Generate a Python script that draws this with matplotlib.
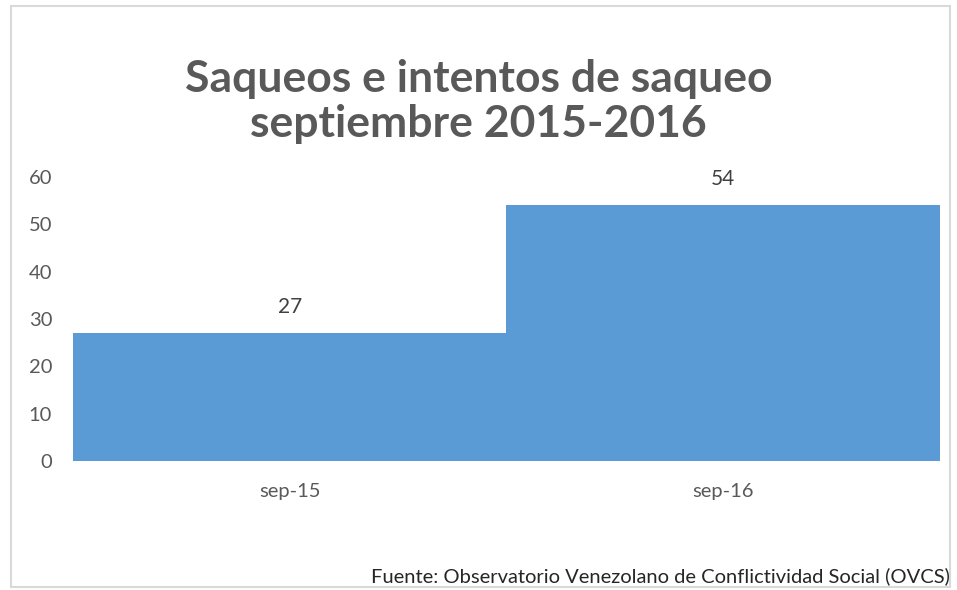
import matplotlib.pyplot as plt
from matplotlib.patches import Rectangle

# --- DATA ---
months = ['sep-15', 'sep-16']
saqueos = [27, 54]
y_ticks = [0, 10, 20, 30, 40, 50, 60]

title_lines = ['Saqueos e intentos de saqueo', 'septiembre 2015-2016']
source = 'Fuente: Observatorio Venezolano de Conflictividad Social (OVCS)'

plt.rcParams['font.family'] = ['Lato', 'DejaVu Sans']

fig = plt.figure(figsize=(9.57, 5.90), dpi=100)
ax = fig.add_axes([0.0763, 0.2186, 0.9057, 0.4814])

x = range(len(months))
ax.bar(x, saqueos, width=1.0, color='#5B9BD5', edgecolor='none')
for xi, v in zip(x, saqueos):
    ax.annotate(str(v), (xi, v), xytext=(0, 12), textcoords='offset points',
                ha='center', va='bottom', fontsize=15, color='#404040')

ax.set_xlim(-0.5, len(months) - 0.5)
ax.set_ylim(0, 60)
ax.set_yticks(y_ticks)
ax.set_xticks(list(x))
ax.set_xticklabels(months)
ax.tick_params(length=0, labelsize=14.5, labelcolor='#595959')
ax.tick_params(axis='x', pad=16)
ax.tick_params(axis='y', pad=15)
for s in ax.spines.values():
    s.set_visible(False)

# title, two lines
fig.text(0.5, 1 - 79 / 590, title_lines[0], ha='center', va='center', fontsize=32,
         fontweight='bold', color='#595959')
fig.text(0.5, 1 - 124 / 590, title_lines[1], ha='center', va='center', fontsize=32,
         fontweight='bold', color='#595959')
fig.text(0.993, 1 - 576 / 590, source, ha='right', va='center', fontsize=14.5, color='#262626')

# chart border
fig.patches.append(Rectangle((0.011, 0.005), 0.982, 0.985, transform=fig.transFigure,
                             fill=False, edgecolor='#D9D9D9', linewidth=1.5))

fig.savefig('out.png', dpi=100)
